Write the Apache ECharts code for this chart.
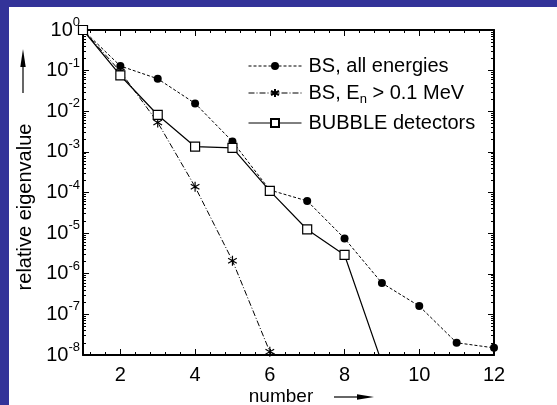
<!DOCTYPE html>
<html><head><meta charset="utf-8">
<script src="https://cdn.jsdelivr.net/npm/echarts@6/dist/echarts.min.js"></script>
<style>
html,body{margin:0;padding:0;background:#333399;width:557px;height:405px;overflow:hidden}
#c{position:absolute;left:9px;top:7px;width:548px;height:398px;background:#fff}
</style>
</head><body><div id="c"></div>
<script>
// ---- data ----
const numbersAll = [1,2,3,4,5,6,7,8,9,10,11,12];
const bsAll      = [1, 0.13, 0.063, 0.0156, 1.8e-3, 1.15e-4, 6.2e-5, 7.4e-6, 5.9e-7, 1.6e-7, 2.0e-8, 1.5e-8];
const numbersHigh = [1,2,3,4,5,6,7];
const bsHigh     = [1, 0.095, 5.3e-3, 1.38e-4, 2.1e-6, 1.2e-8, 5e-9];
const numbersBubble = [1,2,3,4,5,6,7,8,9];
const bubble     = [1, 0.076, 8.1e-3, 1.34e-3, 1.26e-3, 1.1e-4, 1.23e-5, 2.9e-6, 6.4e-9];
const seriesNames = ['BS, all energies', 'BS, En > 0.1 MeV', 'BUBBLE detectors'];
const xTickLabels = [2,4,6,8,10,12];
const xMinorTicks = [1.2,1.6,2.0,2.4,2.8,3.2,3.6,4.0,4.4,4.8,5.2,5.6,6.0,6.4,6.8,7.2,7.6,8.0,8.4,8.8,9.2,9.6,10.0,10.4,10.8,11.2,11.6];
const yMinorFactors = [2,3,4,5,6,7,8,9];
const yDecades = [-8,-7,-6,-5,-4,-3,-2,-1];

const FONT = "'Liberation Sans', Arial, Helvetica, sans-serif";
const yMinor = [];
yDecades.forEach(d => yMinorFactors.forEach(k => yMinor.push(d + Math.log10(k))));

const pair = (xs, ys) => xs.map((x, i) => [x, ys[i]]);
const starPath = 'path://M5,0L5,10M0.67,2.5L9.33,7.5M0.67,7.5L9.33,2.5';

const black = '#000';
const tickMajor = {show:true, inside:true, length:6, lineStyle:{color:black, width:1}};
const tickMinor = {show:true, inside:true, length:3, lineStyle:{color:black, width:1}};
const lineOn = {show:true, onZero:false, lineStyle:{color:black, width:2}};
const lineOff = {show:false, onZero:false};

const chart = echarts.init(document.getElementById('c'), null, {renderer:'canvas'});
chart.setOption({
  animation: false,
  backgroundColor: '#fff',
  grid: {left:74, top:23, width:411, height:325, containLabel:false},
  legend: {
    orient:'vertical', left:234, top:44, itemWidth:53, itemHeight:10, itemGap:7,
    data: seriesNames,
    lineStyle: {width:1},
    formatter: function(name){
      if (name === seriesNames[1]) return '{n|BS, E}{sub|n}{n| > 0.1 MeV}';
      return '{n|' + name + '}';
    },
    textStyle: {fontFamily:FONT, fontSize:20, color:black, padding:[0,0,0,2],
      rich:{ n:{fontFamily:FONT, fontSize:20, color:black, lineHeight:22},
             sub:{fontFamily:FONT, fontSize:13, color:black, lineHeight:26, verticalAlign:'bottom'} } }
  },
  xAxis: [
    {type:'value', position:'bottom', min:1, max:12, axisLine:lineOn, splitLine:{show:false},
     axisTick:Object.assign({customValues:xTickLabels}, tickMajor),
     axisLabel:{customValues:xTickLabels, fontFamily:FONT, fontSize:20, color:black, margin:10}},
    {type:'value', position:'bottom', min:1, max:12, axisLine:lineOff, splitLine:{show:false},
     axisTick:Object.assign({customValues:xMinorTicks}, tickMinor), axisLabel:{show:false}},
    {type:'value', position:'top', min:1, max:12, axisLine:lineOn, splitLine:{show:false},
     axisTick:Object.assign({customValues:xTickLabels}, tickMajor), axisLabel:{show:false}},
    {type:'value', position:'top', min:1, max:12, axisLine:lineOff, splitLine:{show:false},
     axisTick:Object.assign({customValues:xMinorTicks}, tickMinor), axisLabel:{show:false}}
  ],
  yAxis: [
    {type:'log', logBase:10, position:'left', min:1e-8, max:1, splitNumber:8, axisLine:lineOn,
     splitLine:{show:false}, minorTick:{show:false}, axisTick:tickMajor,
     axisLabel:{fontFamily:FONT, color:black, margin:3,
       formatter: function(v){ const e = Math.round(Math.log10(v)); return '{b|10}{s|' + e + '}'; },
       rich:{ b:{fontFamily:FONT, fontSize:20, color:black, lineHeight:20},
              s:{fontFamily:FONT, fontSize:13, color:black, lineHeight:28, verticalAlign:'top'} } }},
    {type:'value', position:'left', min:-8, max:0, axisLine:lineOff, splitLine:{show:false},
     axisTick:Object.assign({customValues:yMinor}, tickMinor), axisLabel:{show:false}},
    {type:'value', position:'right', min:-8, max:0, interval:1, axisLine:lineOn, splitLine:{show:false},
     axisTick:tickMajor, axisLabel:{show:false}},
    {type:'value', position:'right', min:-8, max:0, axisLine:lineOff, splitLine:{show:false},
     axisTick:Object.assign({customValues:yMinor}, tickMinor), axisLabel:{show:false}}
  ],
  series: [
    {name:seriesNames[0], type:'line', xAxisIndex:0, yAxisIndex:0, data:pair(numbersAll, bsAll),
     symbol:'circle', symbolSize:8, clip:true, z:3,
     lineStyle:{color:black, width:1, type:[3,2]}, itemStyle:{color:black, borderColor:black, borderWidth:0}},
    {name:seriesNames[1], type:'line', xAxisIndex:0, yAxisIndex:0, data:pair(numbersHigh, bsHigh),
     symbol:starPath, symbolSize:10, symbolKeepAspect:true, clip:true, z:2,
     lineStyle:{color:black, width:1, type:[6,2,1,2]}, itemStyle:{color:black, borderColor:black, borderWidth:1.2}},
    {name:seriesNames[2], type:'line', xAxisIndex:0, yAxisIndex:0, data:pair(numbersBubble, bubble),
     symbol:'rect', symbolSize:9, clip:true, z:4,
     lineStyle:{color:black, width:1.2, type:'solid'}, itemStyle:{color:'#fff', borderColor:black, borderWidth:1.2}}
  ],
  graphic: [
    {type:'text', x:272, y:390, style:{text:'number', fontFamily:FONT, fontSize:19, fill:black, align:'center', verticalAlign:'middle'}},
    {type:'line', shape:{x1:325, y1:390, x2:350, y2:390}, style:{stroke:black, lineWidth:1.2}},
    {type:'polygon', shape:{points:[[348,387.3],[365,390],[348,392.7]]}, style:{fill:black}},
    {type:'text', x:16, y:200, rotation:Math.PI/2, style:{text:'relative eigenvalue', fontFamily:FONT, fontSize:20, fill:black, align:'center', verticalAlign:'middle'}},
    {type:'line', shape:{x1:14, y1:86, x2:14, y2:58}, style:{stroke:black, lineWidth:1.2}},
    {type:'polygon', shape:{points:[[11.3,60],[14,42],[16.7,60]]}, style:{fill:black}}
  ]
});
</script>
</body></html>
